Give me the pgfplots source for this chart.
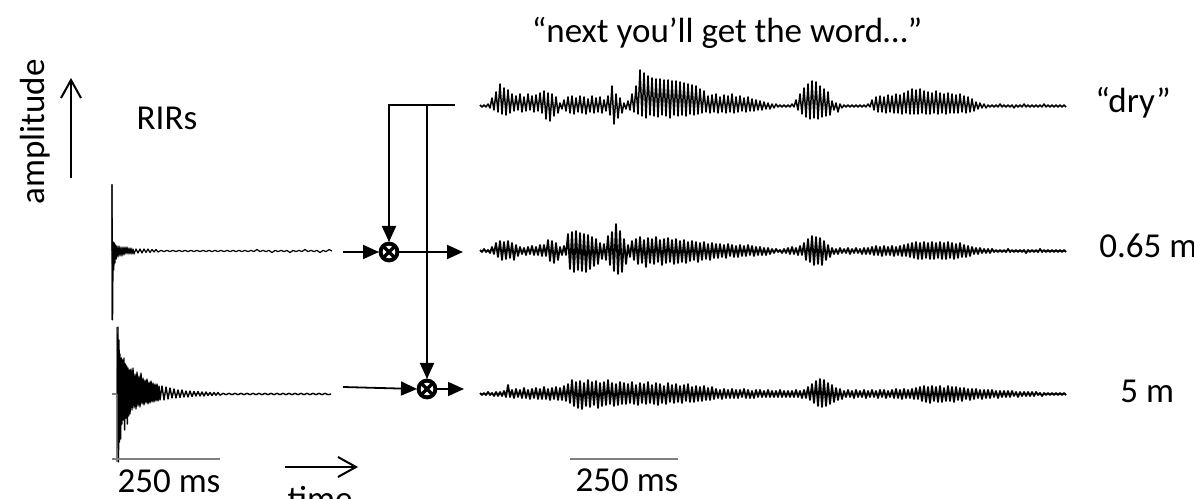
\documentclass[border=0pt]{standalone}
\usepackage{pgfplots}
\pgfplotsset{compat=1.18}
\usepackage{fontspec}
\setmainfont{Carlito}
\usetikzlibrary{arrows.meta}
\newcommand\fs{\fontsize{17.5}{21}\selectfont}
\definecolor{bargray}{gray}{0.5}
\begin{document}
\begin{tikzpicture}
\begin{axis}[name=ax, width=597pt, height=249pt, scale only axis,
  xmin=0, xmax=1194, ymin=0, ymax=498, hide axis, clip=false]

% ---------- dry speech (baseline y=392) ----------
\addplot[black, line width=0.75pt, mark=none, line join=round]
 table[row sep=\\, x expr={480+2*\coordindex}, y expr={\thisrow{a}+392}] {a\\
1\\-1\\1\\-1\\2\\-2\\
8\\-4\\14\\-6\\22\\-8\\18\\-9\\16\\-7\\12\\-5\\
10\\-4\\12\\-6\\9\\-5\\12\\-4\\10\\-6\\11\\-5\\13\\-7\\
15\\-13\\13\\-15\\12\\-10\\9\\-7\\
3\\-3\\
6\\-5\\9\\-7\\10\\-8\\8\\-6\\10\\-7\\9\\-8\\7\\-6\\10\\-7\\8\\-6\\9\\-7\\6\\-5\\
10\\-9\\20\\-18\\12\\-12\\8\\-7\\
3\\-3\\5\\-4\\
12\\-6\\20\\-8\\36\\-10\\33\\-12\\30\\-9\\28\\-10\\27\\-11\\27\\-9\\26\\-10\\26\\-12\\25\\-9\\25\\-10\\24\\-9\\23\\-10\\22\\-8\\21\\-9\\20\\-8\\17\\-7\\15\\-6\\
10\\-7\\11\\-6\\12\\-7\\9\\-6\\11\\-7\\10\\-6\\12\\-7\\9\\-6\\10\\-5\\8\\-6\\9\\-5\\7\\-5\\6\\-4\\5\\-4\\4\\-3\\
3\\-3\\2\\-2\\2\\-1\\
1\\-1\\1\\-1\\1\\-1\\2\\-1\\
6\\-4\\12\\-8\\18\\-11\\22\\-13\\25\\-12\\24\\-13\\20\\-11\\17\\-10\\14\\-9\\
5\\-4\\3\\-6\\2\\-2\\
1\\-1\\1\\-1\\1\\-1\\1\\-1\\1\\-1\\1\\-1\\2\\-1\\
6\\-4\\9\\-6\\10\\-6\\9\\-7\\11\\-6\\10\\-7\\12\\-7\\11\\-8\\13\\-7\\15\\-8\\17\\-8\\16\\-8\\17\\-7\\15\\-8\\14\\-8\\13\\-7\\15\\-8\\13\\-7\\12\\-8\\13\\-7\\12\\-7\\11\\-7\\12\\-6\\10\\-7\\9\\-6\\7\\-5\\
4\\-3\\3\\-2\\2\\-2\\
1\\-1\\1\\-1\\1\\-1\\2\\-1\\1\\-1\\1\\-1\\1\\-2\\1\\-1\\1\\-1\\2\\-1\\1\\-1\\1\\-1\\1\\-1\\1\\-1\\2\\-1\\1\\-1\\1\\-1\\1\\-1\\1\\-1\\1\\-1\\
};

% ---------- 0.65 m (baseline y=247) ----------
\addplot[black, line width=0.9pt, mark=none, line join=round]
 table[row sep=\\, x expr={480+2*\coordindex}, y expr={\thisrow{a}+247}] {a\\
1\\-1\\2\\-1\\1\\-2\\
4\\-3\\8\\-6\\10\\-9\\9\\-8\\10\\-7\\8\\-9\\6\\-5\\
4\\-3\\3\\-4\\4\\-3\\5\\-4\\4\\-4\\6\\-5\\6\\-5\\
11\\-10\\10\\-12\\8\\-9\\
4\\-4\\5\\-4\\
17\\-18\\19\\-21\\20\\-19\\18\\-20\\17\\-21\\16\\-18\\14\\-15\\12\\-13\\
8\\-8\\7\\-9\\
15\\-14\\19\\-20\\27\\-23\\20\\-21\\12\\-13\\
6\\-6\\
10\\-9\\12\\-13\\14\\-12\\11\\-16\\13\\-12\\12\\-13\\14\\-11\\11\\-14\\12\\-12\\13\\-11\\11\\-13\\12\\-12\\10\\-11\\11\\-12\\9\\-10\\10\\-9\\9\\-11\\8\\-9\\9\\-8\\7\\-9\\8\\-7\\7\\-7\\
7\\-6\\6\\-7\\7\\-5\\6\\-6\\5\\-6\\6\\-5\\5\\-5\\6\\-4\\5\\-5\\4\\-4\\4\\-4\\3\\-4\\3\\-3\\
2\\-2\\2\\-1\\1\\-2\\2\\-2\\3\\-3\\
4\\-3\\3\\-4\\5\\-4\\
8\\-9\\12\\-11\\15\\-14\\14\\-13\\13\\-14\\10\\-9\\6\\-6\\
3\\-3\\2\\-3\\3\\-2\\2\\-2\\3\\-3\\2\\-2\\3\\-2\\2\\-3\\3\\-3\\3\\-3\\
4\\-4\\5\\-4\\4\\-5\\5\\-4\\4\\-4\\5\\-5\\4\\-4\\5\\-5\\6\\-5\\
7\\-6\\8\\-7\\9\\-8\\8\\-8\\9\\-7\\8\\-8\\9\\-8\\8\\-7\\9\\-8\\8\\-8\\9\\-7\\8\\-8\\7\\-7\\8\\-6\\6\\-6\\5\\-5\\
4\\-3\\3\\-3\\3\\-2\\2\\-2\\2\\-2\\2\\-1\\1\\-1\\
1\\-1\\1\\-1\\2\\-1\\1\\-1\\1\\-1\\1\\-1\\1\\-2\\1\\-1\\1\\-1\\1\\-1\\2\\-1\\1\\-1\\1\\-1\\1\\-1\\1\\-1\\1\\-1\\1\\-1\\
};

% ---------- 5 m (baseline y=104) ----------
\addplot[black, line width=0.9pt, mark=none, line join=round]
 table[row sep=\\, x expr={480+2*\coordindex}, y expr={\thisrow{a}+104}] {a\\
1\\-1\\1\\-1\\2\\-1\\1\\-2\\2\\-2\\2\\-2\\
3\\-3\\9\\-3\\4\\-4\\5\\-3\\4\\-4\\6\\-4\\4\\-5\\5\\-4\\6\\-5\\5\\-5\\7\\-5\\5\\-6\\6\\-5\\7\\-6\\6\\-6\\8\\-7\\
10\\-9\\14\\-12\\12\\-14\\13\\-15\\11\\-12\\14\\-13\\12\\-11\\13\\-14\\11\\-12\\12\\-11\\14\\-10\\11\\-12\\10\\-11\\12\\-10\\11\\-10\\
10\\-9\\12\\-10\\9\\-11\\11\\-9\\10\\-10\\12\\-9\\9\\-10\\11\\-11\\10\\-9\\8\\-10\\11\\-8\\9\\-9\\10\\-8\\8\\-9\\9\\-7\\10\\-8\\7\\-8\\8\\-7\\7\\-7\\8\\-6\\6\\-6\\7\\-5\\
5\\-4\\4\\-5\\5\\-4\\4\\-4\\5\\-4\\4\\-4\\4\\-3\\5\\-4\\4\\-4\\3\\-4\\4\\-3\\4\\-3\\3\\-3\\4\\-3\\3\\-3\\3\\-3\\4\\-3\\3\\-3\\3\\-3\\3\\-3\\4\\-3\\3\\-4\\4\\-4\\
7\\-6\\10\\-9\\13\\-12\\15\\-13\\14\\-12\\11\\-10\\9\\-8\\6\\-6\\5\\-5\\
3\\-3\\4\\-3\\3\\-4\\4\\-3\\3\\-3\\4\\-4\\3\\-3\\4\\-3\\3\\-4\\4\\-3\\4\\-4\\3\\-3\\4\\-4\\5\\-4\\4\\-5\\5\\-4\\4\\-4\\5\\-5\\6\\-5\\
7\\-7\\8\\-8\\7\\-9\\8\\-7\\7\\-8\\8\\-8\\6\\-7\\8\\-7\\7\\-8\\7\\-6\\6\\-7\\6\\-5\\5\\-6\\
5\\-5\\5\\-4\\4\\-5\\4\\-4\\4\\-4\\4\\-3\\3\\-4\\3\\-3\\3\\-3\\3\\-3\\3\\-2\\2\\-3\\2\\-2\\2\\-2\\2\\-2\\2\\-2\\2\\-1\\1\\-2\\1\\-1\\1\\-1\\1\\-1\\1\\-1\\1\\-1\\1\\-1\\
};

% ---------- RIR 0.65 m (baseline y=247) ----------
\draw[bargray, line width=0.8pt] (axis cs:112,314) -- (axis cs:112,178);
\addplot[black, line width=0.6pt, mark=none, line join=round]
 table[row sep=\\, x=x, y expr={\thisrow{a}+247}] {x a\\
112 0\\ 112 66\\ 112.6 -69\\ 113.2 9\\ 113.8 -19\\ 114.4 8\\ 115 -12\\ 115.6 6\\ 116.2 -8\\ 117 5\\ 118 -6\\ 119 5\\ 120 -5\\ 121 4\\ 122 -5\\ 123 4\\ 124 -4\\ 125 4\\ 126 -3\\ 127 4\\ 128 -3\\ 129 3\\ 130 -3\\ 131 3\\ 132 -3\\ 133 2\\ 134 -3\\ 136 2\\ 138 -2\\ 140 2\\ 142 -2\\ 144 2\\ 146 -1.5\\ 148 2\\ 150 -1.5\\ 152 1.5\\ 154 -1\\ 156 1.5\\ 158 -1\\
161 0.6\\ 164 -0.6\\ 167 0.6\\ 170 -0.6\\ 173 0.6\\ 176 -0.6\\ 179 0.6\\ 182 -0.6\\ 185 0.6\\ 188 -0.6\\ 191 0.6\\ 194 -0.6\\ 197 0.6\\ 200 -0.6\\ 203 0.6\\ 206 -0.6\\ 209 0.6\\ 212 -0.6\\ 215 0.6\\ 218 -0.6\\ 221 0.6\\ 224 -0.6\\ 227 0.6\\ 230 -0.6\\ 233 0.6\\ 236 -0.6\\ 239 0.6\\ 242 -0.6\\ 245 0.6\\ 248 -0.6\\ 251 0.6\\ 254 -0.6\\ 257 1.6\\ 260 -0.6\\ 263 0.6\\ 266 -0.6\\ 269 0.6\\ 272 -1.6\\ 275 0.6\\ 278 -0.6\\ 281 0.6\\ 284 -0.6\\ 287 0.6\\ 290 -1.6\\ 293 0.6\\ 296 -0.6\\ 299 0.6\\ 302 -0.6\\ 305 1.6\\ 308 -0.6\\ 311 0.6\\ 314 -0.6\\ 317 0.6\\ 320 -1.6\\ 323 0.6\\ 326 -0.6\\ 329 1.4\\ 332 0\\
};

% ---------- RIR 5 m (baseline y=104) ----------
\draw[bargray, line width=0.8pt] (axis cs:117,171) -- (axis cs:117,36);
\draw[bargray, line width=0.8pt] (axis cs:112,104) -- (axis cs:117,104);
\addplot[black, line width=0.7pt, mark=none, line join=round]
 table[row sep=\\, x=x, y expr={\thisrow{a}+104}] {x a\\
117.5 0\\ 118 67\\ 118.5 -68\\ 119 54\\ 119.5 -48\\ 120 40\\ 120.7 -45\\ 121.3 36\\ 122 -30\\ 122.7 34\\ 123.3 -26\\ 124 36\\ 124.7 -36\\ 125.3 30\\ 126 -24\\ 126.7 28\\ 127.3 -30\\ 128 26\\ 128.7 -22\\ 129.3 24\\ 130 -20\\ 131 25\\ 132 -16\\ 133 26\\ 134 -14\\ 135 20\\ 136 -15\\ 137 22\\ 138 -12\\ 139 18\\ 140 -13\\ 141 21\\ 142 -10\\ 143 16\\ 144 -11\\ 145 14\\ 146 -9\\ 147 15\\ 148 -10\\ 149 12\\ 150 -9\\ 151 13\\ 152 -8\\ 153 11\\ 154 -8\\ 155 10\\ 156 -7\\ 157 10\\ 158 -7\\ 159 8\\ 160 -6\\ 162 8\\ 164 -6\\ 166 7\\ 168 -5\\ 170 6\\ 172 -4\\ 174 5\\ 176 -4\\ 178 4\\ 180 -3.5\\ 182 4\\ 184 -3\\ 186 3\\ 188 -3\\ 190 3\\ 192 -2.5\\ 194 2.5\\ 196 -2\\ 198 2.5\\ 200 -2\\ 202 2\\ 204 -2\\ 206 2\\ 208 -1.5\\ 210 1.5\\ 212 -1.5\\ 214 1.5\\ 216 -1.2\\ 218 1.5\\ 220 -1.2\\
223 0.7\\ 226 -0.7\\ 229 0.7\\ 232 -0.7\\ 235 0.7\\ 238 -0.7\\ 241 0.7\\ 244 -0.7\\ 247 0.7\\ 250 -0.7\\ 253 0.7\\ 256 -0.7\\ 259 0.7\\ 262 -0.7\\ 265 0.7\\ 268 -0.7\\ 271 0.7\\ 274 -0.7\\ 277 0.7\\ 280 -0.7\\ 283 0.7\\ 286 -0.7\\ 289 0.7\\ 292 -0.7\\ 295 0.7\\ 298 -0.7\\ 301 0.7\\ 304 -0.7\\ 307 0.7\\ 310 -0.7\\ 313 0.7\\ 316 -0.7\\ 319 0.7\\ 322 -0.7\\ 325 0.7\\ 328 -0.7\\ 331 0\\
};

% ---------- scale bars ----------
\draw[bargray, line width=1pt] (axis cs:112,39) -- (axis cs:220,39);
\draw[bargray, line width=1pt] (axis cs:570,39) -- (axis cs:678,39);

% ---------- texts ----------
\node[font=\fs, rotate=90, inner sep=0pt] at (axis cs:35,366) {amplitude};
\draw[line width=1pt, -{Straight Barb[length=9pt,width=10pt]}] (axis cs:71,320) -- (axis cs:71,420);
\node[font=\fs, anchor=base, inner sep=0pt] at (axis cs:167,368) {RIRs};
\node[font=\fs, anchor=base, inner sep=0pt] at (axis cs:727,455) {“next you’ll get the word…”};
\node[font=\fs, anchor=base, inner sep=0pt] at (axis cs:1133,385) {“dry”};
\node[font=\fs, anchor=base west, inner sep=0pt] at (axis cs:1099,240) {0.65 m};
\node[font=\fs, anchor=base west, inner sep=0pt] at (axis cs:1120,95) {5 m};
\node[font=\fs, anchor=base, inner sep=0pt] at (axis cs:169,5) {250 ms};
\node[font=\fs, anchor=base, inner sep=0pt] at (axis cs:627,6) {250 ms};
\node[font=\fs, anchor=base, inner sep=0pt] at (axis cs:320,-13) {time};
\draw[line width=1pt, -{Straight Barb[length=9pt,width=10pt]}] (axis cs:285,31) -- (axis cs:358,31);

% ---------- signal flow ----------
\draw[line width=0.9pt, -{Triangle[length=8pt,width=7pt]}] (axis cs:455,393) -- (axis cs:389,393) -- (axis cs:389,256);
\draw[line width=0.9pt, -{Triangle[length=8pt,width=7pt]}] (axis cs:427,393) -- (axis cs:427,119);
\draw[line width=0.9pt, -{Triangle[length=8pt,width=7pt]}] (axis cs:343,246) -- (axis cs:379,246);
\draw[line width=0.9pt, -{Triangle[length=8pt,width=7pt]}] (axis cs:399,246) -- (axis cs:463,246);
\draw[line width=0.9pt, -{Triangle[length=8pt,width=7pt]}] (axis cs:343,111) -- (axis cs:417,109);
\draw[line width=0.9pt, -{Triangle[length=8pt,width=7pt]}] (axis cs:437,109) -- (axis cs:464,109);
\draw[line width=2pt, fill=white] (axis cs:389,246) circle[radius=4.2pt];
\draw[line width=1.6pt] (axis cs:389,246) ++(-3.2pt,-3.2pt) -- ++(6.4pt,6.4pt);
\draw[line width=1.6pt] (axis cs:389,246) ++(-3.2pt,3.2pt) -- ++(6.4pt,-6.4pt);
\draw[line width=2pt, fill=white] (axis cs:427,109) circle[radius=4.2pt];
\draw[line width=1.6pt] (axis cs:427,109) ++(-3.2pt,-3.2pt) -- ++(6.4pt,6.4pt);
\draw[line width=1.6pt] (axis cs:427,109) ++(-3.2pt,3.2pt) -- ++(6.4pt,-6.4pt);
\end{axis}
\pgfresetboundingbox
\path[use as bounding box] (ax.south west) rectangle (ax.north east);
\end{tikzpicture}
\end{document}
